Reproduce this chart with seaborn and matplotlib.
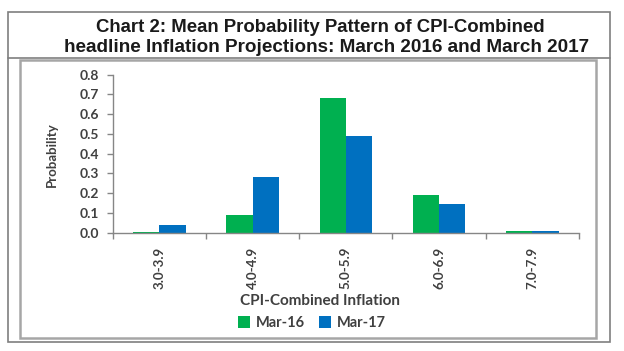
import matplotlib
matplotlib.use("Agg")
import matplotlib.pyplot as plt
import seaborn as sns
import pandas as pd
from matplotlib.patches import Rectangle, Patch

categories = ["3.0-3.9", "4.0-4.9", "5.0-5.9", "6.0-6.9", "7.0-7.9"]
mar16 = [0.003, 0.09, 0.68, 0.19, 0.01]
mar17 = [0.04, 0.28, 0.49, 0.145, 0.01]
series = ["Mar-16", "Mar-17"]
yticks = [0.0, 0.1, 0.2, 0.3, 0.4, 0.5, 0.6, 0.7, 0.8]

df = pd.DataFrame({
    "cat": categories * 2,
    "val": mar16 + mar17,
    "series": [series[0]] * len(categories) + [series[1]] * len(categories),
})

sns.set_theme(style="white")
plt.rcParams["font.family"] = ["Lato", "DejaVu Sans"]

W, H = 624, 351
fig = plt.figure(figsize=(W / 100, H / 100), dpi=100)

def fx(x):
    return x / W

def fy(y):
    return 1 - y / H

grey_box = "#7f7f7f"
fig.patches.append(Rectangle((fx(8), fy(342)), fx(602), 330 / H, transform=fig.transFigure,
                             fill=False, edgecolor=grey_box, lw=1.2))
fig.add_artist(plt.Line2D([fx(8), fx(610)], [fy(58), fy(58)], transform=fig.transFigure,
                          color=grey_box, lw=1.2))
fig.patches.append(Rectangle((fx(20), fy(338)), fx(576), 278 / H, transform=fig.transFigure,
                             fill=False, edgecolor="#a6a6a6", lw=1.8))

fig.text(fx(320), fy(27), "Chart 2: Mean Probability Pattern of CPI-Combined",
         family="Liberation Sans", weight="bold", fontsize=13.4, ha="center", va="center",
         color="#1a1a1a")
fig.text(fx(327), fy(47), "headline Inflation Projections: March 2016 and March 2017",
         family="Liberation Sans", weight="bold", fontsize=13.6, ha="center", va="center",
         color="#1a1a1a")

ax = fig.add_axes([fx(112.7), fy(232.5), (579 - 112.7) / W, (232.5 - 74.7) / H])
sns.barplot(data=df, x="cat", y="val", hue="series", order=categories, hue_order=series,
            palette=["#00B050", "#0070C0"], width=0.565, saturation=1, ax=ax, legend=False,
            edgecolor="none")

axis_col = "#868686"
text_col = "#404040"
ax.set_xlim(-0.5, len(categories) - 0.5)
ax.set_ylim(0, 0.8)
ax.set_yticks(yticks)
ax.set_yticklabels([f"{v:.1f}" for v in yticks], fontsize=10, weight="bold", color=text_col)
ax.set_xticks([i - 0.5 for i in range(len(categories) + 1)])
ax.set_xticklabels([])
ax.set_xticks(range(len(categories)), minor=True)
ax.set_xticklabels(categories, minor=True, rotation=90, fontsize=9.6, weight="bold",
                   color=text_col)
ax.tick_params(axis="x", which="major", length=4, width=1, color=axis_col, direction="out",
               bottom=True)
ax.tick_params(axis="x", which="minor", length=0, pad=10, bottom=True)
ax.tick_params(axis="y", length=4, width=1, color=axis_col, direction="out", pad=6, left=True)
for s in ["top", "right"]:
    ax.spines[s].set_visible(False)
for s in ["left", "bottom"]:
    ax.spines[s].set_color(axis_col)
    ax.spines[s].set_linewidth(1.0)
ax.set_xlabel("")
ax.set_ylabel("")
ax.grid(False)

fig.text(fx(52), fy(155), "Probability", rotation=90, ha="center", va="center",
         fontsize=9.5, weight="bold", color=text_col)
fig.text(fx(320), fy(301), "CPI-Combined Inflation", ha="center", va="center",
         fontsize=11, weight="bold", color=text_col)

handles = [Patch(facecolor="#00B050", edgecolor="none"), Patch(facecolor="#0070C0", edgecolor="none")]
fig.legend(handles, series, loc="center", bbox_to_anchor=(fx(312), fy(323)), ncol=2,
           frameon=False, handlelength=0.8, handleheight=0.8, handletextpad=0.4,
           columnspacing=1.0, prop={"family": "Lato", "weight": "bold", "size": 10.5},
           labelcolor=text_col)

fig.savefig("out.png", dpi=100)
